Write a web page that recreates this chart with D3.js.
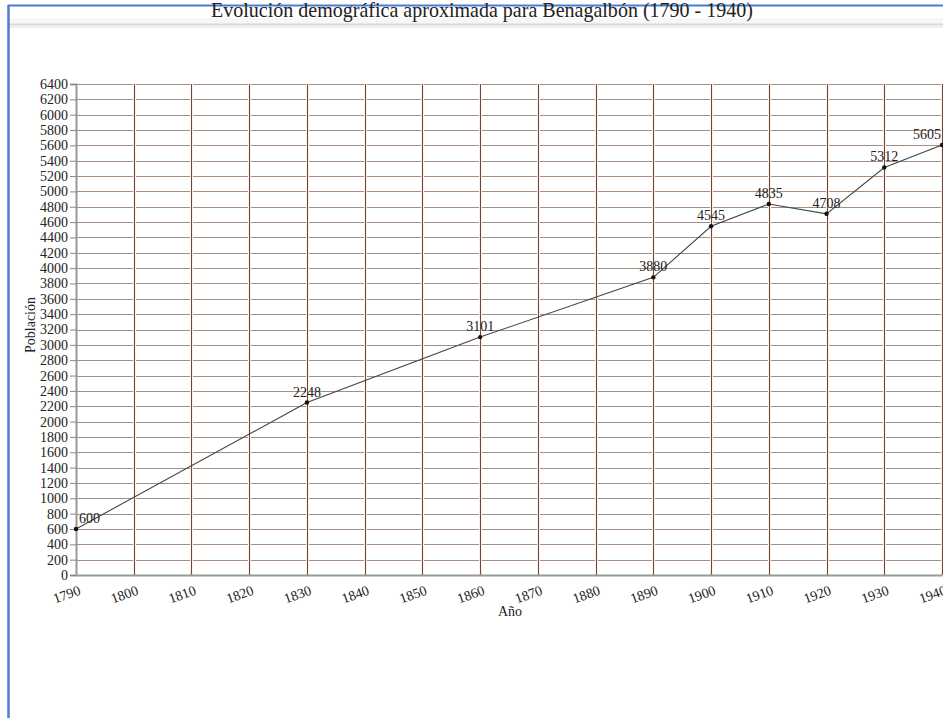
<!DOCTYPE html>
<html><head><meta charset="utf-8">
<script src="https://cdn.jsdelivr.net/npm/d3@7"></script>
<style>html,body{margin:0;padding:0;background:#fff;overflow:hidden}svg{display:block}</style>
</head><body>
<script>
const years = [1790, 1830, 1860, 1890, 1900, 1910, 1920, 1930, 1940];
const population = [600, 2248, 3101, 3880, 4545, 4835, 4708, 5312, 5605];
const xTicks = [1790,1800,1810,1820,1830,1840,1850,1860,1870,1880,1890,1900,1910,1920,1930,1940];
const yTicks = d3.range(0, 6401, 200);
const title = "Evolución demográfica aproximada para Benagalbón (1790 - 1940)";
const xTitle = "Año";
const yTitle = "Población";

const W = 943, H = 718;
const svg = d3.select("body").append("svg").attr("width", W).attr("height", H);
const font = "Liberation Serif";

// frame
svg.append("rect").attr("x",0).attr("y",0).attr("width",W).attr("height",H).attr("fill","#fff");
svg.append("rect").attr("x",9).attr("y",18).attr("width",W).attr("height",6).attr("fill","#f7f7f7");
svg.append("line").attr("x1",9).attr("x2",W).attr("y1",24.5).attr("y2",24.5).attr("stroke","#d8d8d8").attr("stroke-width",2);
svg.append("line").attr("x1",9).attr("x2",W).attr("y1",27).attr("y2",27).attr("stroke","#f0f0f0").attr("stroke-width",2);
svg.append("line").attr("x1",8).attr("x2",W).attr("y1",5.5).attr("y2",5.5).attr("stroke","#4a7bd8").attr("stroke-width",2);
svg.append("line").attr("x1",8.5).attr("x2",8.5).attr("y1",5).attr("y2",H).attr("stroke","#4a7bd8").attr("stroke-width",2.5);

svg.append("text").attr("x",482).attr("y",17).attr("text-anchor","middle")
  .attr("font-family",font).attr("font-size",21).attr("textLength",542).attr("lengthAdjust","spacingAndGlyphs")
  .attr("fill","#222").text(title);

const x = d3.scaleLinear().domain([1790,1940]).range([76,942]);
const y = d3.scaleLinear().domain([0,6400]).range([575,84]);

// grid
const g = svg.append("g");
g.selectAll(".hg").data(yTicks.slice(1)).join("line")
  .attr("x1",76).attr("x2",942).attr("y1",d=>Math.round(y(d))+0.5).attr("y2",d=>Math.round(y(d))+0.5)
  .attr("stroke","#a58d80").attr("stroke-width",1);
g.selectAll(".vgh").data(xTicks.slice(1)).join("line")
  .attr("x1",d=>Math.round(x(d))+0.5).attr("x2",d=>Math.round(x(d))+0.5).attr("y1",84).attr("y2",575)
  .attr("stroke","#fbefe6").attr("stroke-width",3);
g.selectAll(".vg").data(xTicks.slice(1)).join("line")
  .attr("x1",d=>Math.round(x(d))+0.5).attr("x2",d=>Math.round(x(d))+0.5).attr("y1",84).attr("y2",575)
  .attr("stroke","#6e4a40").attr("stroke-width",1);

// axes
const ya = svg.append("g").attr("transform","translate(76,0)")
  .call(d3.axisLeft(y).tickValues(yTicks).tickSize(6).tickPadding(2).tickFormat(d3.format("d")));
ya.select(".domain").attr("stroke","#999").attr("stroke-width",2);
ya.selectAll(".tick line").attr("stroke","#888");
ya.selectAll("text").attr("font-family",font).attr("font-size",14).attr("fill","#222");

const xa = svg.append("g").attr("transform","translate(0,575)")
  .call(d3.axisBottom(x).tickValues(xTicks).tickSize(0).tickFormat(d3.format("d")));
xa.select(".domain").attr("stroke","#999").attr("stroke-width",2);
xa.selectAll("text").attr("font-family",font).attr("font-size",14).attr("fill","#222")
  .attr("text-anchor","end").attr("dy",0).attr("y",0)
  .attr("transform","translate(5,19) rotate(-20)");

svg.append("text").attr("x",510).attr("y",616).attr("text-anchor","middle")
  .attr("font-family",font).attr("font-size",14).attr("fill","#222").text(xTitle);
svg.append("text").attr("transform","translate(35,325) rotate(-90)").attr("text-anchor","middle")
  .attr("font-family",font).attr("font-size",14).attr("fill","#222").text(yTitle);

// line
const data = years.map((yr,i)=>({yr, v: population[i]}));
svg.append("path").datum(data)
  .attr("d", d3.line().x(d=>x(d.yr)).y(d=>y(d.v)))
  .attr("fill","none").attr("stroke","#444").attr("stroke-width",1.1);
svg.selectAll(".pt").data(data).join("circle")
  .attr("cx",d=>x(d.yr)).attr("cy",d=>y(d.v)).attr("r",2.2).attr("fill","#111");
svg.selectAll(".lbl").data(data).join("text")
  .attr("x",(d,i)=> i===0 ? x(d.yr)+3 : (i===data.length-1 ? x(d.yr)-1 : x(d.yr)))
  .attr("y",d=>y(d.v)-6)
  .attr("text-anchor",(d,i)=> i===0 ? "start" : (i===data.length-1 ? "end" : "middle"))
  .attr("font-family",font).attr("font-size",14).attr("fill","#222").text(d=>d.v);
</script>
</body></html>
